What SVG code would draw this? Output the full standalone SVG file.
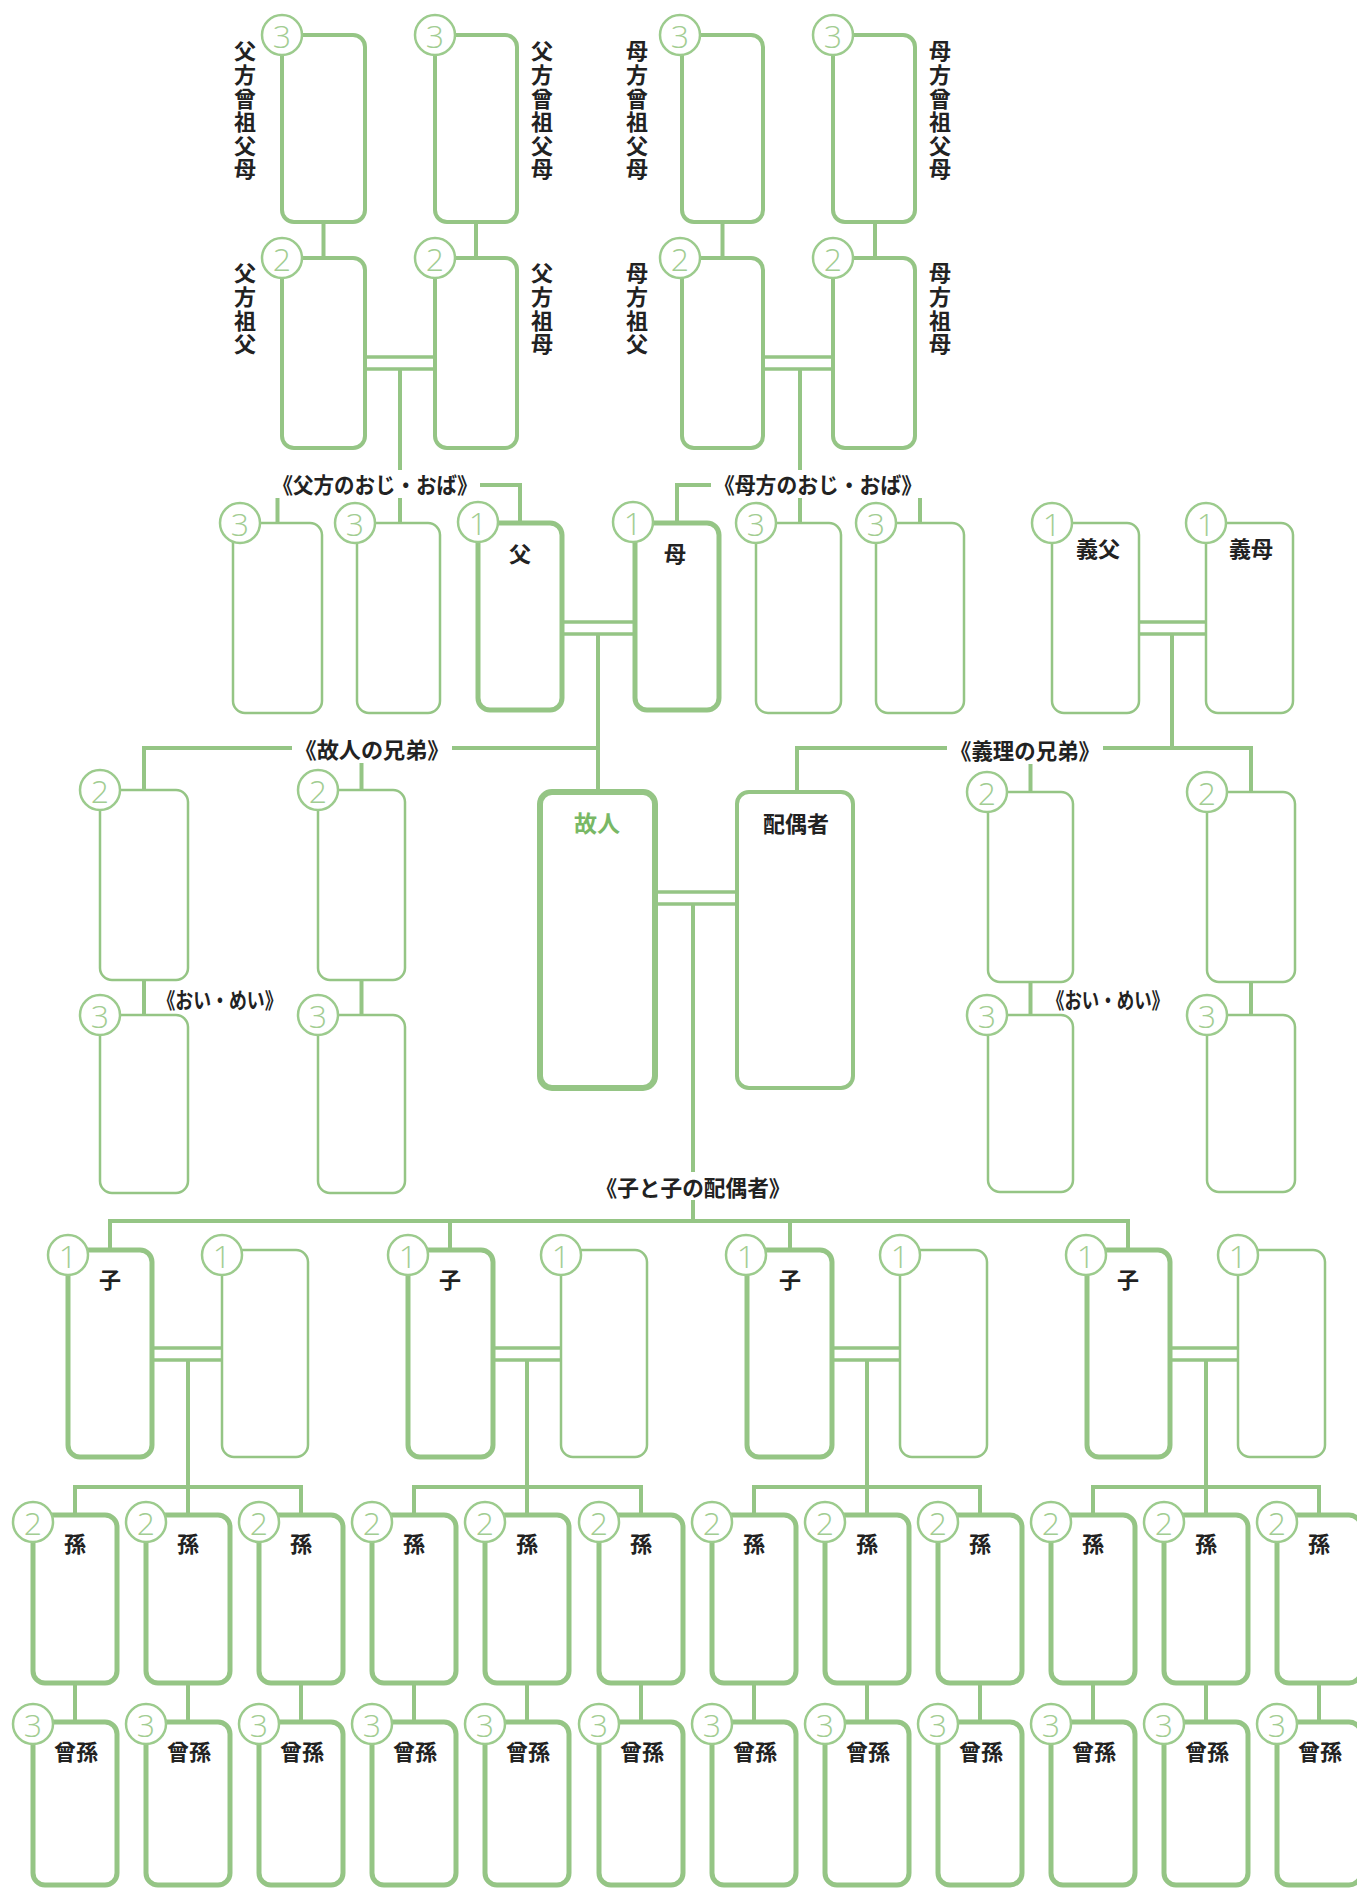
<svg xmlns="http://www.w3.org/2000/svg" width="1357" height="1890" viewBox="0 0 1357 1890">
<style>
.box{fill:#fff;stroke:#95c585;stroke-width:4}
.thin{stroke-width:2.5}
.thick{stroke-width:5}
.xthick{stroke-width:6}
.badge{fill:#fff;stroke:#9ccb8d;stroke-width:2.5}
.num{font-family:"Open Sans","Liberation Sans",sans-serif;font-weight:300;font-size:32px;fill:#a2cd92;text-anchor:middle;dominant-baseline:central}
.lbl{font-family:"Noto Sans CJK JP",sans-serif;font-size:22px;font-weight:700;fill:#222;text-anchor:middle;dominant-baseline:central}
.vl{font-family:"Noto Sans CJK JP",sans-serif;font-size:22px;font-weight:700;fill:#222;writing-mode:vertical-rl;letter-spacing:1.6px}
.main{fill:#79b865;font-size:23px}
.cn{stroke:#95c585;stroke-width:4;fill:none}
.dbl{stroke-width:3.5}
.bg{fill:#fff}
</style>
<rect width="1357" height="1890" fill="#fff"/>
<g id="connectors">
<path class="cn" d="M323.5,222V258M476,222V258M722.5,222V258M875,222V258"/>
<path class="cn dbl" d="M365,357H435M365,369H435M763,357H833M763,369H833"/>
<path class="cn" d="M400,369V523M800,369V523"/>
<path class="cn" d="M277.5,523V485H520V523M677,523V485H920V523"/>
<path class="cn dbl" d="M562,622H635M562,634H635M1139,622H1206M1139,634H1206"/>
<path class="cn" d="M598,634V792M1172,634V749"/>
<path class="cn" d="M144,790V748H598M361.5,748V790M797,792V748H1251V792M1030.5,748V792"/>
<path class="cn" d="M144,980V1015M361.5,980V1015M1030.5,982V1015M1251,982V1015"/>
<path class="cn dbl" d="M655,892H737M655,904H737"/>
<path class="cn" d="M693,904V1221"/>
<path class="cn" d="M110,1250V1221H1128V1250M450,1221V1250M790,1221V1250"/>
<path class="cn dbl" d="M152,1348H222M152,1360H222M493,1348H561M493,1360H561M832,1348H900M832,1360H900M1170,1348H1238M1170,1360H1238"/>
<path class="cn" d="M188,1360V1515M527,1360V1515M867,1360V1515M1206,1360V1515"/>
<path class="cn" d="M75,1515V1487H301V1515M414,1515V1487H641V1515M754,1515V1487H980V1515M1093,1515V1487H1319V1515"/>
<path class="cn" d="M75,1683V1722M188,1683V1722M301,1683V1722M414,1683V1722M527,1683V1722M641,1683V1722M754,1683V1722M867,1683V1722M980,1683V1722M1093,1683V1722M1206,1683V1722M1319,1683V1722"/>
</g>

<g id="pat-ggp-1"><rect class="box" x="282" y="35" width="83" height="187" rx="12"/><circle class="badge" cx="282" cy="35" r="20"/><text class="num" x="282" y="35">3</text><text class="vl" x="245" y="40">父方曾祖父母</text></g>
<g id="pat-ggp-2"><rect class="box" x="435" y="35" width="82" height="187" rx="12"/><circle class="badge" cx="435" cy="35" r="20"/><text class="num" x="435" y="35">3</text><text class="vl" x="542" y="40">父方曾祖父母</text></g>
<g id="pat-gf"><rect class="box" x="282" y="258" width="83" height="190" rx="12"/><circle class="badge" cx="282" cy="258" r="20"/><text class="num" x="282" y="258">2</text><text class="vl" x="245" y="262">父方祖父</text></g>
<g id="pat-gm"><rect class="box" x="435" y="258" width="82" height="190" rx="12"/><circle class="badge" cx="435" cy="258" r="20"/><text class="num" x="435" y="258">2</text><text class="vl" x="542" y="262">父方祖母</text></g>
<g id="mat-ggp-1"><rect class="box" x="682" y="35" width="81" height="187" rx="12"/><circle class="badge" cx="680" cy="35" r="20"/><text class="num" x="680" y="35">3</text><text class="vl" x="637" y="40">母方曾祖父母</text></g>
<g id="mat-ggp-2"><rect class="box" x="833" y="35" width="82" height="187" rx="12"/><circle class="badge" cx="833" cy="35" r="20"/><text class="num" x="833" y="35">3</text><text class="vl" x="940" y="40">母方曾祖父母</text></g>
<g id="mat-gf"><rect class="box" x="682" y="258" width="81" height="190" rx="12"/><circle class="badge" cx="680" cy="258" r="20"/><text class="num" x="680" y="258">2</text><text class="vl" x="637" y="262">母方祖父</text></g>
<g id="mat-gm"><rect class="box" x="833" y="258" width="82" height="190" rx="12"/><circle class="badge" cx="833" cy="258" r="20"/><text class="num" x="833" y="258">2</text><text class="vl" x="940" y="262">母方祖母</text></g>

<g id="pat-uncle-1"><rect class="box thin" x="233" y="523" width="89" height="190" rx="12"/><circle class="badge" cx="240" cy="523" r="20"/><text class="num" x="240" y="523">3</text></g>
<g id="pat-uncle-2"><rect class="box thin" x="357" y="523" width="83" height="190" rx="12"/><circle class="badge" cx="355" cy="523" r="20"/><text class="num" x="355" y="523">3</text></g>
<g id="father"><rect class="box thick" x="478" y="523" width="84" height="187" rx="12"/><circle class="badge" cx="478" cy="522" r="20"/><text class="num" x="478" y="522">1</text><text class="lbl" x="520" y="552">父</text></g>
<g id="mother"><rect class="box thick" x="635" y="523" width="84" height="187" rx="12"/><circle class="badge" cx="633" cy="522" r="20"/><text class="num" x="633" y="522">1</text><text class="lbl" x="675" y="552">母</text></g>
<g id="mat-uncle-1"><rect class="box thin" x="756" y="523" width="85" height="190" rx="12"/><circle class="badge" cx="756" cy="523" r="20"/><text class="num" x="756" y="523">3</text></g>
<g id="mat-uncle-2"><rect class="box thin" x="876" y="523" width="88" height="190" rx="12"/><circle class="badge" cx="876" cy="523" r="20"/><text class="num" x="876" y="523">3</text></g>
<g id="father-in-law"><rect class="box thin" x="1052" y="523" width="87" height="190" rx="12"/><circle class="badge" cx="1052" cy="523" r="20"/><text class="num" x="1052" y="523">1</text><text class="lbl" x="1098" y="547">義父</text></g>
<g id="mother-in-law"><rect class="box thin" x="1206" y="523" width="87" height="190" rx="12"/><circle class="badge" cx="1206" cy="523" r="20"/><text class="num" x="1206" y="523">1</text><text class="lbl" x="1251" y="547">義母</text></g>

<g id="sibling-1"><rect class="box thin" x="100" y="790" width="88" height="190" rx="12"/><circle class="badge" cx="100" cy="790" r="20"/><text class="num" x="100" y="790">2</text></g>
<g id="sibling-2"><rect class="box thin" x="318" y="790" width="87" height="190" rx="12"/><circle class="badge" cx="318" cy="790" r="20"/><text class="num" x="318" y="790">2</text></g>
<g id="nephew-1"><rect class="box thin" x="100" y="1015" width="88" height="178" rx="12"/><circle class="badge" cx="100" cy="1015" r="20"/><text class="num" x="100" y="1015">3</text></g>
<g id="nephew-2"><rect class="box thin" x="318" y="1015" width="87" height="178" rx="12"/><circle class="badge" cx="318" cy="1015" r="20"/><text class="num" x="318" y="1015">3</text></g>
<g id="deceased"><rect class="box xthick" x="540" y="792" width="115" height="296" rx="12"/><text class="lbl main" x="597" y="822">故人</text></g>
<g id="spouse"><rect class="box" x="737" y="792" width="116" height="296" rx="12"/><text class="lbl" x="796" y="822">配偶者</text></g>
<g id="inlaw-sibling-1"><rect class="box thin" x="988" y="792" width="85" height="190" rx="12"/><circle class="badge" cx="987" cy="792" r="20"/><text class="num" x="987" y="792">2</text></g>
<g id="inlaw-sibling-2"><rect class="box thin" x="1207" y="792" width="88" height="190" rx="12"/><circle class="badge" cx="1207" cy="792" r="20"/><text class="num" x="1207" y="792">2</text></g>
<g id="inlaw-nephew-1"><rect class="box thin" x="988" y="1015" width="85" height="177" rx="12"/><circle class="badge" cx="987" cy="1015" r="20"/><text class="num" x="987" y="1015">3</text></g>
<g id="inlaw-nephew-2"><rect class="box thin" x="1207" y="1015" width="88" height="177" rx="12"/><circle class="badge" cx="1207" cy="1015" r="20"/><text class="num" x="1207" y="1015">3</text></g>

<g id="child-1"><rect class="box thick" x="68" y="1250" width="84" height="207" rx="12"/><circle class="badge" cx="68" cy="1255" r="20"/><text class="num" x="68" y="1255">1</text><text class="lbl" x="110" y="1278">子</text></g>
<g id="child-spouse-1"><rect class="box thin" x="222" y="1250" width="86" height="207" rx="12"/><circle class="badge" cx="222" cy="1255" r="20"/><text class="num" x="222" y="1255">1</text></g>
<g id="child-2"><rect class="box thick" x="408" y="1250" width="85" height="207" rx="12"/><circle class="badge" cx="408" cy="1255" r="20"/><text class="num" x="408" y="1255">1</text><text class="lbl" x="450" y="1278">子</text></g>
<g id="child-spouse-2"><rect class="box thin" x="561" y="1250" width="86" height="207" rx="12"/><circle class="badge" cx="561" cy="1255" r="20"/><text class="num" x="561" y="1255">1</text></g>
<g id="child-3"><rect class="box thick" x="747" y="1250" width="85" height="207" rx="12"/><circle class="badge" cx="746" cy="1255" r="20"/><text class="num" x="746" y="1255">1</text><text class="lbl" x="790" y="1278">子</text></g>
<g id="child-spouse-3"><rect class="box thin" x="900" y="1250" width="87" height="207" rx="12"/><circle class="badge" cx="900" cy="1255" r="20"/><text class="num" x="900" y="1255">1</text></g>
<g id="child-4"><rect class="box thick" x="1087" y="1250" width="83" height="207" rx="12"/><circle class="badge" cx="1086" cy="1255" r="20"/><text class="num" x="1086" y="1255">1</text><text class="lbl" x="1128" y="1278">子</text></g>
<g id="child-spouse-4"><rect class="box thin" x="1238" y="1250" width="87" height="207" rx="12"/><circle class="badge" cx="1238" cy="1255" r="20"/><text class="num" x="1238" y="1255">1</text></g>

<g id="grandchild-1"><rect class="box thick" x="33" y="1515" width="84" height="168" rx="12"/><circle class="badge" cx="33" cy="1522" r="20"/><text class="num" x="33" y="1522">2</text><text class="lbl" x="75" y="1542">孫</text></g>
<g id="grandchild-2"><rect class="box thick" x="146" y="1515" width="84" height="168" rx="12"/><circle class="badge" cx="146" cy="1522" r="20"/><text class="num" x="146" y="1522">2</text><text class="lbl" x="188" y="1542">孫</text></g>
<g id="grandchild-3"><rect class="box thick" x="259" y="1515" width="84" height="168" rx="12"/><circle class="badge" cx="259" cy="1522" r="20"/><text class="num" x="259" y="1522">2</text><text class="lbl" x="301" y="1542">孫</text></g>
<g id="grandchild-4"><rect class="box thick" x="372" y="1515" width="84" height="168" rx="12"/><circle class="badge" cx="372" cy="1522" r="20"/><text class="num" x="372" y="1522">2</text><text class="lbl" x="414" y="1542">孫</text></g>
<g id="grandchild-5"><rect class="box thick" x="485" y="1515" width="84" height="168" rx="12"/><circle class="badge" cx="485" cy="1522" r="20"/><text class="num" x="485" y="1522">2</text><text class="lbl" x="527" y="1542">孫</text></g>
<g id="grandchild-6"><rect class="box thick" x="599" y="1515" width="84" height="168" rx="12"/><circle class="badge" cx="599" cy="1522" r="20"/><text class="num" x="599" y="1522">2</text><text class="lbl" x="641" y="1542">孫</text></g>
<g id="grandchild-7"><rect class="box thick" x="712" y="1515" width="84" height="168" rx="12"/><circle class="badge" cx="712" cy="1522" r="20"/><text class="num" x="712" y="1522">2</text><text class="lbl" x="754" y="1542">孫</text></g>
<g id="grandchild-8"><rect class="box thick" x="825" y="1515" width="84" height="168" rx="12"/><circle class="badge" cx="825" cy="1522" r="20"/><text class="num" x="825" y="1522">2</text><text class="lbl" x="867" y="1542">孫</text></g>
<g id="grandchild-9"><rect class="box thick" x="938" y="1515" width="84" height="168" rx="12"/><circle class="badge" cx="938" cy="1522" r="20"/><text class="num" x="938" y="1522">2</text><text class="lbl" x="980" y="1542">孫</text></g>
<g id="grandchild-10"><rect class="box thick" x="1051" y="1515" width="84" height="168" rx="12"/><circle class="badge" cx="1051" cy="1522" r="20"/><text class="num" x="1051" y="1522">2</text><text class="lbl" x="1093" y="1542">孫</text></g>
<g id="grandchild-11"><rect class="box thick" x="1164" y="1515" width="84" height="168" rx="12"/><circle class="badge" cx="1164" cy="1522" r="20"/><text class="num" x="1164" y="1522">2</text><text class="lbl" x="1206" y="1542">孫</text></g>
<g id="grandchild-12"><rect class="box thick" x="1277" y="1515" width="84" height="168" rx="12"/><circle class="badge" cx="1277" cy="1522" r="20"/><text class="num" x="1277" y="1522">2</text><text class="lbl" x="1319" y="1542">孫</text></g>

<g id="ggchild-1"><rect class="box thick" x="33" y="1722" width="84" height="163" rx="12"/><circle class="badge" cx="33" cy="1724" r="20"/><text class="num" x="33" y="1724">3</text><text class="lbl" x="76" y="1750">曾孫</text></g>
<g id="ggchild-2"><rect class="box thick" x="146" y="1722" width="84" height="163" rx="12"/><circle class="badge" cx="146" cy="1724" r="20"/><text class="num" x="146" y="1724">3</text><text class="lbl" x="189" y="1750">曾孫</text></g>
<g id="ggchild-3"><rect class="box thick" x="259" y="1722" width="84" height="163" rx="12"/><circle class="badge" cx="259" cy="1724" r="20"/><text class="num" x="259" y="1724">3</text><text class="lbl" x="302" y="1750">曾孫</text></g>
<g id="ggchild-4"><rect class="box thick" x="372" y="1722" width="84" height="163" rx="12"/><circle class="badge" cx="372" cy="1724" r="20"/><text class="num" x="372" y="1724">3</text><text class="lbl" x="415" y="1750">曾孫</text></g>
<g id="ggchild-5"><rect class="box thick" x="485" y="1722" width="84" height="163" rx="12"/><circle class="badge" cx="485" cy="1724" r="20"/><text class="num" x="485" y="1724">3</text><text class="lbl" x="528" y="1750">曾孫</text></g>
<g id="ggchild-6"><rect class="box thick" x="599" y="1722" width="84" height="163" rx="12"/><circle class="badge" cx="599" cy="1724" r="20"/><text class="num" x="599" y="1724">3</text><text class="lbl" x="642" y="1750">曾孫</text></g>
<g id="ggchild-7"><rect class="box thick" x="712" y="1722" width="84" height="163" rx="12"/><circle class="badge" cx="712" cy="1724" r="20"/><text class="num" x="712" y="1724">3</text><text class="lbl" x="755" y="1750">曾孫</text></g>
<g id="ggchild-8"><rect class="box thick" x="825" y="1722" width="84" height="163" rx="12"/><circle class="badge" cx="825" cy="1724" r="20"/><text class="num" x="825" y="1724">3</text><text class="lbl" x="868" y="1750">曾孫</text></g>
<g id="ggchild-9"><rect class="box thick" x="938" y="1722" width="84" height="163" rx="12"/><circle class="badge" cx="938" cy="1724" r="20"/><text class="num" x="938" y="1724">3</text><text class="lbl" x="981" y="1750">曾孫</text></g>
<g id="ggchild-10"><rect class="box thick" x="1051" y="1722" width="84" height="163" rx="12"/><circle class="badge" cx="1051" cy="1724" r="20"/><text class="num" x="1051" y="1724">3</text><text class="lbl" x="1094" y="1750">曾孫</text></g>
<g id="ggchild-11"><rect class="box thick" x="1164" y="1722" width="84" height="163" rx="12"/><circle class="badge" cx="1164" cy="1724" r="20"/><text class="num" x="1164" y="1724">3</text><text class="lbl" x="1207" y="1750">曾孫</text></g>
<g id="ggchild-12"><rect class="box thick" x="1277" y="1722" width="84" height="163" rx="12"/><circle class="badge" cx="1277" cy="1724" r="20"/><text class="num" x="1277" y="1724">3</text><text class="lbl" x="1320" y="1750">曾孫</text></g>

<g id="section-labels">
<rect class="bg" x="270" y="470" width="210" height="28"/>
<text class="lbl" x="375" y="483" textLength="205" lengthAdjust="spacingAndGlyphs">《父方のおじ・おば》</text>
<rect class="bg" x="711" y="470" width="214" height="28"/>
<text class="lbl" x="818" y="483" textLength="208" lengthAdjust="spacingAndGlyphs">《母方のおじ・おば》</text>
<rect class="bg" x="292" y="735" width="160" height="28"/>
<text class="lbl" x="372" y="748" textLength="155" lengthAdjust="spacingAndGlyphs">《故人の兄弟》</text>
<rect class="bg" x="947" y="736" width="156" height="28"/>
<text class="lbl" x="1025" y="749" textLength="150" lengthAdjust="spacingAndGlyphs">《義理の兄弟》</text>
<text class="lbl" x="220" y="998" textLength="125" lengthAdjust="spacingAndGlyphs">《おい・めい》</text>
<text class="lbl" x="1108" y="998" textLength="122" lengthAdjust="spacingAndGlyphs">《おい・めい》</text>
<rect class="bg" x="593" y="1172" width="200" height="28"/>
<text class="lbl" x="693" y="1186" textLength="195" lengthAdjust="spacingAndGlyphs">《子と子の配偶者》</text>
</g>
</svg>
